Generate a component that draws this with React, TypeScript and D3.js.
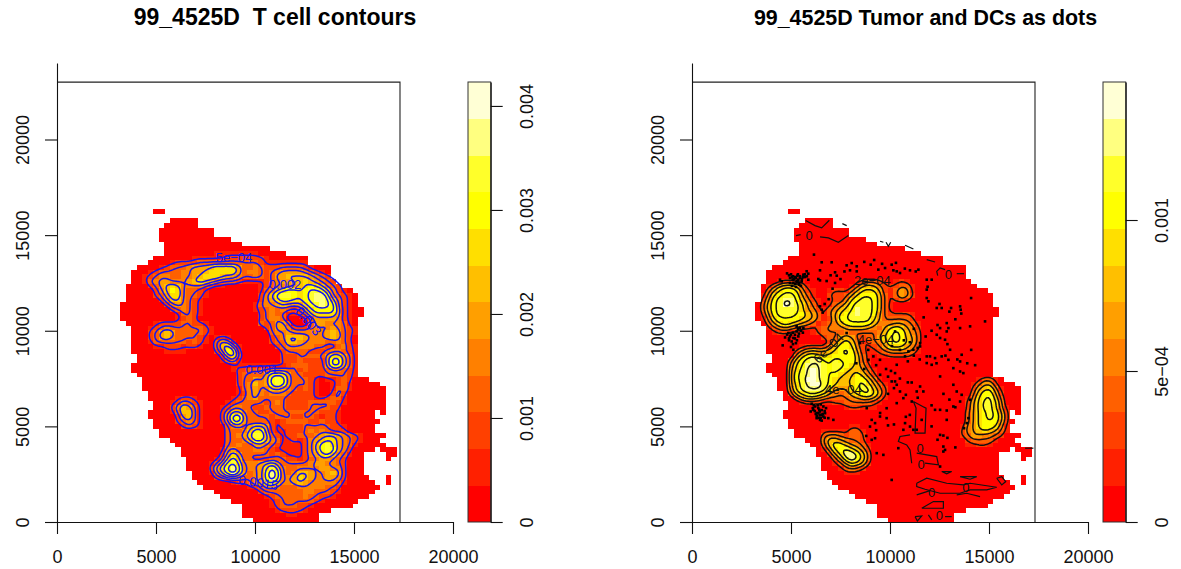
import React, { useEffect, useRef } from 'react';
import * as d3 from 'd3';

const heatColors = ['#FF0000', '#FF2000', '#FF4000', '#FF6000', '#FF8000', '#FF9F00', '#FFBF00', '#FFDF00', '#FFFF00', '#FFFF2A', '#FFFF80', '#FFFFD5'];

const xTicks = [0, 5000, 10000, 15000, 20000];
const yTicks = [0, 5000, 10000, 15000, 20000];
const boxMax = [17323, 23000];
const gridOrigin = [3182, 16366];
const gridStep = [279.4, 244.2];
const gridCols = 52;
const gridRows = 68;

// tissue outline, one list of [firstCol, lastCol] per grid row
const tissueRuns: number[][][] = [
  [[6, 7]], [], [[9, 13]], [[8, 13]], [[7, 16]], [[7, 16]], [[7, 19]], [[8, 21]], [[8, 26]], [[8, 29]],
  [[6, 33]], [[5, 33]], [[3, 37]], [[2, 37]], [[2, 37]], [[2, 38]], [[1, 39]], [[1, 41]], [[1, 42]], [[1, 42]],
  [[0, 42]], [[0, 43]], [[0, 43]], [[0, 42]], [[1, 42]], [[2, 42]], [[2, 42]], [[2, 42]], [[2, 42]], [[2, 42]],
  [[2, 42]], [[3, 42]], [[3, 42]], [[2, 42]], [[2, 42]], [[3, 42]], [[4, 44]], [[4, 46]], [[4, 47]], [[5, 47]],
  [[5, 47]], [[6, 47]], [[6, 47]], [[5, 45], [47, 47]], [[5, 45]], [[6, 46]], [[6, 45]], [[7, 45]], [[7, 47]], [[9, 46]],
  [[10, 47]], [[11, 45], [47, 49]], [[11, 43], [48, 49]], [[12, 43], [48, 48]], [[12, 43]], [[12, 43]], [[13, 43]], [[13, 44], [48, 48]], [[14, 45], [48, 48]], [[15, 46]],
  [[17, 45]], [[18, 44]], [[20, 42]], [[22, 41]], [[22, 37]], [[22, 35]], [[24, 35]],
];

// colour band per cell for the T cell panel: [firstCol, bands] by grid row, everything else is band 0
const tcellBands: [number, string][][] = [
  [], [], [], [], [], [], [], [], [],
  [[17, '11111111']],
  [[13, '11111122222221']],
  [[9, '1222233333333333211111111']],
  [[7, '1233345556777753343222333321']],
  [[5, '12333344556777775344323455554321']],
  [[4, '12344334456777655433432355666654321']],
  [[4, '134554445676543332111123455667654321']],
  [[5, '23567644443211'], [25, '1234455678764321']],
  [[6, '2468743321'], [25, '1346788789986421']],
  [[6, '2357743321'], [25, '2468998789aa84321']],
  [[7, '24664321'], [25, '2457887789aa96421']],
  [[8, '2454321'], [24, '134456555789a98421']],
  [[9, '234321'], [24, '123434323578888521']],
  [[10, '13321'], [25, '23433112367777521']],
  [[10, '1232'], [25, '23443000135555421']],
  [[6, '1222233221'], [25, '32355300035544431']],
  [[5, '123433333321'], [26, '23554222344454321']],
  [[5, '235653333321'], [27, '3445444444565321']],
  [[5, '23564333321'], [17, '121'], [27, '234666544456532']],
  [[5, '13333332321'], [17, '3541'], [27, '233665444433432']],
  [[6, '112221221'], [17, '36741'], [28, '234444433223421']],
  [[8, '1111'], [17, '24872'], [29, '23333222344321']],
  [[18, '2573'], [29, '22233333577531']],
  [[18, '1341'], [29, '22232222588531']],
  [[20, '1111111111'], [30, '2333222588531']],
  [[20, '1223333444'], [30, '3323222344321']],
  [[21, '2333357775332222333321']],
  [[21, '233545898533321011232']],
  [[21, '234645898533321001231']],
  [[21, '134544665432321001331']],
  [[21, '12454344432222100242']],
  [[10, '1221'], [20, '123453333322222112331']],
  [[9, '124321'], [19, '1233333234322223333321']],
  [[9, '246531'], [18, '1244332233332222333322']],
  [[9, '136631'], [18, '2466433223333333332221']],
  [[10, '25631'], [18, '2589533332333223321221']],
  [[10, '23431'], [18, '2488533332123333223221']],
  [[11, '2321'], [19, '3453566521222233333221']],
  [[19, '3334688521122234343222']],
  [[19, '3345799632122333456654321']],
  [[19, '3334688643112124567754321']],
  [[19, '334335543211112468975431']],
  [[18, '145333443211111246898542']],
  [[18, '257533333232111245786431']],
  [[17, '136863322233322123455432']],
  [[16, '1358974445675333334554432']],
  [[16, '2579a84445797433444455442']],
  [[16, '1468a753458a8434665445652']],
  [[17, '2355433458a8445765445542']],
  [[20, '122345786445654444431']],
  [[23, '12355433344444332']],
  [[25, '233333334433321']],
  [[26, '1233333433221']],
  [[27, '1233333321']],
  [[27, '12333221']],
  [[28, '122221']],
  [[30, '11']],
];

// same for the tumour and DC panel
const tumorBands: [number, string][][] = [
  [], [], [], [], [], [], [], [], [], [], [], [], [], [], [],
  [[4, '12211'], [18, '123321'], [25, '121']],
  [[2, '13566531'], [17, '135654222331']],
  [[2, '357887421'], [13, '122'], [16, '1357775213541']],
  [[1, '1478998531'], [13, '2223578886313542']],
  [[1, '2589aa86421'], [13, '122478998631232']],
  [[1, '3689ba97531'], [13, '134689998631']],
  [[1, '368999975421'], [13, '34678a998631']],
  [[1, '258999886531'], [13, '35789a9985322221']],
  [[1, '147888876531'], [13, '2588999975333332']],
  [[2, '3578765431'], [12, '23'], [14, '4688888644455431']],
  [[2, '134543221234'], [14, '4456665435787542']],
  [[3, '12211'], [10, '123333'], [16, '43333346898643']],
  [[12, '233565323357898653']],
  [[13, '24686412346898753']],
  [[8, '1222246887421235777542']],
  [[7, '24565567898521123444431']],
  [[7, '4688777888863101122221']],
  [[6, '3689aa889888631']],
  [[6, '478aaa989987642']],
  [[6, '579aba9898766531']],
  [[6, '589aba9887668642']],
  [[6, '589bba98766788641'], [40, '1331']],
  [[6, '579abb987667897531'], [39, '13552']],
  [[6, '479aaa975557899642'], [39, '256741']],
  [[6, '367898754346789752'], [39, '368852']],
  [[7, '35665433334566531'], [38, '1478963']],
  [[8, '122211223333321'], [38, '2579974']],
  [[16, '122111'], [38, '25799741']],
  [[38, '35789852']],
  [[38, '35789862']],
  [[38, '35788852']],
  [[17, '11'], [37, '145788741']],
  [[12, '11111331'], [37, '245676531']],
  [[12, '34432332'], [37, '23554432']],
  [[12, '46654332'], [38, '233331']],
  [[12, '368865431'], [38, '11221']],
  [[12, '147897642']],
  [[13, '257aa863']],
  [[14, '358a863']],
  [[14, '1357652']],
  [[15, '13432']],
  [[16, '111']],
];

const tcellLevels = [0.0005, 0.001, 0.0015, 0.002, 0.0025, 0.003, 0.0035, 0.004];
const tumorLevels = [0.0002, 0.0004, 0.0006, 0.0008, 0.001, 0.0012, 0.0014];
const tcellMax = 0.00423;
const tumorMax = 0.001457;

const tcellLegendTicks = [0, 0.001, 0.002, 0.003, 0.004];
const tcellLegendLabels = ['0', '0.001', '0.002', '0.003', '0.004'];
const tumorLegendTicks = [0, 0.0005, 0.001];
const tumorLegendLabels = ['0', '5e\u221204', '0.001'];

const tcellLabels: [string, number, number, number][] = [
  ['5e\u221204', 8940, 13858, 0],
  ['0.001', 10340, 7994, 0],
  ['0.002', 11518, 12409, 0],
  ['0.0015', 10170, 2060, 8],
  ['0.003', 12697, 10490, 50],
];
const tumorLabels: [string, number, number, number][] = [
  ['2e\u221204', 9109, 12636, 0],
  ['4e\u221204', 9295, 9530, 0],
  ['6e\u221204', 6887, 9094, -45],
  ['4e\u221204', 7644, 6912, 0],
  ['0', 5910, 14992, 0],
  ['0', 12949, 12933, 0],
  ['0', 11518, 3859, 0],
  ['0', 11568, 2986, 0],
  ['0', 12107, 1538, 0],
  ['0', 13825, 1817, 0],
  ['0', 12494, 369, 0],
];

// the zero level contours on the right panel, they do not follow the colour bands
const zeroContours: number[][][] = [
  [[5741, 15760], [6213, 15498], [6550, 15376], [6937, 15777]],
  [[6466, 14905], [6887, 14852], [7392, 14625], [7897, 14974]],
  [[5253, 14974], [5489, 15027]],
  [[7594, 15603], [7813, 15498]],
  [[9497, 14678], [9665, 14625]],
  [[9800, 14625], [9918, 14416], [10036, 14625]],
  [[10760, 14468], [11181, 14276]],
  [[11854, 13718], [12276, 13596]],
  [[12781, 13194], [12528, 13282], [12360, 13107], [12410, 12880]],
  [[13370, 12985], [13740, 12985]],
  [[11181, 6302], [11652, 6040], [11821, 5953], [11770, 4644], [11265, 4644], [11316, 5953], [11181, 6302]],
  [[11012, 4557], [10507, 4470], [10423, 4208], [10844, 4033], [11012, 3772], [11097, 3074]],
  [[11349, 3597], [12360, 3423], [12444, 2986], [11770, 3074]],
  [[11349, 2026], [11854, 2288], [12865, 2026], [13707, 1939], [14044, 2026], [15391, 1817], [14886, 1678], [14044, 1678], [13538, 1503], [12528, 1503], [11770, 1712], [11349, 1852], [11349, 2026]],
  [[11349, 1416], [12023, 1643]],
  [[13370, 1416], [13875, 1503], [14549, 1329]],
  [[11602, 718], [12191, 1067], [12696, 1067], [12696, 718], [12023, 718], [11602, 718]],
  [[11265, 282], [11602, 317], [11383, 55], [11265, 282]],
  [[11939, 369], [12107, 107]],
  [[12781, 282], [13117, 282]],
  [[13538, 2375], [14380, 2375], [14044, 2236], [13538, 2375]],
  [[15391, 2288], [15643, 2375], [15845, 2114], [15643, 1939], [15391, 2288]],
  [[12612, 2637], [13117, 2637], [12865, 2516], [12612, 2637]],
  [[16822, 3859], [17243, 3859]],
];

const dotsX = [
  4950, 5085, 5200, 5320, 5455, 5625, 5790, 5710, 5120, 5285, 5420, 5250, 5540, 4950, 5875, 5370, 4530, 4445,
  6160, 6550, 7055, 7810, 8065, 8320, 9025, 9750, 10085, 6465, 7225, 7310, 7980, 8320, 9410, 10340, 10505, 11010, 11435, 10170,
  6380, 6465, 5875, 7225, 11855, 12105, 11855, 11855, 11940, 12360, 12610, 13540, 13570, 14095, 13085, 6465, 6550,
  12865, 12950, 12865, 12530, 12360, 12530, 12780, 14045, 13540, 14800, 11520, 11180, 10930, 11520, 10760, 11855, 12020, 12275, 12610, 11855, 12105,
  13620, 13540, 13035, 12950, 10340, 10255, 10255, 10340, 10085, 11095, 11520, 11685, 11350, 12530, 13200, 13540, 13705, 13200, 13370, 13620, 14045,
  4865, 4950, 5120, 5285, 5455, 5200, 5370, 5035, 4580, 5120, 5625, 5285,
  6045, 6215, 6380, 6635, 6770, 5995, 6380, 6550, 6720, 6295, 6465, 6635, 6885, 7140, 6430, 6130,
  9075, 9245, 8990, 9495, 9830, 10760, 11010, 10675, 11350, 11600, 12530, 12695, 12865, 12275, 12530, 12865, 13200, 13540,
  9830, 10340, 10675, 10505, 8825, 9075, 9245, 9330, 9665, 12695, 12780, 12695, 10085, 11180, 10420, 12530,
  7810, 8485, 8910, 9160, 9495, 10255, 13960, 13875, 13740,
  4800, 4900, 5000, 5100, 5150, 5250, 5350, 5450, 5550, 5300, 5200, 5050, 5400, 5500, 5600, 5700, 5800, 5050,
  4800, 4900, 5000, 5100, 5200, 5300, 5400, 5500, 5350, 5600, 4700, 5250, 5100, 5000, 4900,
  6100, 6200, 6300, 6450, 6550, 6300, 6400, 6500, 6600, 6700, 6150, 6350, 6500, 6450, 6250, 6550, 6700,
  8700, 9200, 10300, 9600, 10750, 11300, 7700, 7000, 6800, 7500, 7100, 6900, 6700, 6600, 11900, 12500, 13000, 13600, 13300, 12400, 12100, 11800,
  11400, 11000, 11200, 10900, 11500, 12350, 12800, 13400, 13900, 14300, 10900, 10500, 10200, 9900, 10800, 11100, 11400, 12100, 12700, 13000, 13300,
  9500, 9900, 9300, 8800, 10200, 11000, 10800, 12100, 12400, 12900, 13300, 8300, 8700, 9300, 9800, 9900, 10050, 9500, 8900, 10700, 10500, 10100,
  11200, 11700, 12900, 14100,
];
const dotsY = [
  12760, 12670, 12810, 12880, 12760, 12930, 13110, 12810, 12500, 12530, 12410, 12290, 12585, 12500, 12985, 12670, 12585, 12670,
  13980, 13580, 13580, 13420, 13540, 13370, 13455, 13280, 13455, 13160, 13055, 12880, 13160, 13105, 13195, 13105, 13020, 13160, 13195, 13160,
  12705, 12635, 12670, 12500, 12670, 12670, 12150, 11710, 11540, 11190, 11190, 11275, 11100, 11710, 11190, 11275, 11100,
  10400, 10140, 9965, 10140, 9790, 9620, 9530, 10230, 10140, 10490, 9355, 9005, 8920, 9180, 8660, 8660, 8660, 8570, 8660, 8310, 8220,
  8745, 8395, 9005, 8480, 8220, 7785, 7350, 7175, 7350, 7295, 7085, 6825, 6825, 7610, 8045, 7870, 7785, 7175, 6825, 6650, 6390,
  9880, 9705, 9620, 9965, 10140, 9790, 9705, 9440, 9235, 9005, 10140, 10230,
  6180, 6040, 5955, 6040, 5955, 5780, 5690, 5605, 5690, 5430, 5340, 5515, 5430, 5340, 5865, 5865,
  5340, 5170, 4990, 5515, 5430, 5170, 4990, 4820, 4820, 5340, 4555, 4520, 5340, 5865, 5865, 5830, 6040, 6300,
  5950, 6215, 6475, 6825, 5950, 4295, 4380, 3600, 3510, 3945, 3770, 3685, 2200, 4820, 3860, 2900,
  9880, 9355, 8480, 8660, 8480, 9965, 5430, 5170, 4905,
  13000, 12900, 12950, 12850, 12700, 12750, 12950, 12850, 12700, 12600, 12450, 12350, 12500, 12350, 12800, 12950, 12850, 12800,
  9800, 9600, 9800, 9900, 9600, 9500, 9850, 10000, 10100, 9900, 9650, 9350, 9300, 9150, 9500,
  5950, 5800, 5700, 5780, 5850, 5550, 5450, 5450, 5650, 5800, 6100, 6100, 6150, 5600, 5650, 5300, 5450,
  13600, 13700, 13550, 13500, 13250, 13100, 13100, 12900, 12600, 12700, 12200, 11650, 11400, 10950, 12300, 11400, 11000, 10900, 10600, 10300, 10000, 9700,
  9100, 9400, 8700, 8400, 8500, 8300, 8700, 8500, 8300, 8200, 7300, 7500, 7000, 6700, 6650, 6300, 6500, 6100, 6700, 6400, 6000,
  5700, 5050, 4800, 4500, 5100, 5600, 5500, 5000, 4300, 4400, 3900, 8300, 8000, 8200, 8000, 7600, 7900, 7700, 9000, 9500, 9000, 9200,
  10100, 10700, 9300, 9000,
];

type PanelSpec = {
  title: string;
  titleSize: number;
  titleCenter: number;
  left: number;
  bands: [number, string][][];
  levels: number[];
  maxValue: number;
  legendTicks: number[];
  legendLabels: string[];
  lineColor: string;
  labels: [string, number, number, number][];
  showDots: boolean;
};

const panels: PanelSpec[] = [
  { title: '99_4525D  T cell contours', titleSize: 23, titleCenter: 275, left: 57, bands: tcellBands, levels: tcellLevels, maxValue: tcellMax, legendTicks: tcellLegendTicks, legendLabels: tcellLegendLabels, lineColor: '#1414f0', labels: tcellLabels, showDots: false },
  { title: '99_4525D Tumor and DCs as dots', titleSize: 21.4, titleCenter: 925.5, left: 692, bands: tumorBands, levels: tumorLevels, maxValue: tumorMax, legendTicks: tumorLegendTicks, legendLabels: tumorLegendLabels, lineColor: '#111', labels: tumorLabels, showDots: true },
];

const FONT = '"Liberation Sans", Arial, sans-serif';

function bandMatrix(rows: [number, string][][]) {
  const m: number[][] = d3.range(gridRows).map(() => new Array(gridCols).fill(0));
  rows.forEach((segments, r) => {
    segments.forEach(([start, digits]) => {
      digits.split('').forEach((ch, i) => {
        m[r][start + i] = parseInt(ch, 16);
      });
    });
  });
  return m;
}

function drawPanel(root: d3.Selection<SVGSVGElement, unknown, null, undefined>, p: PanelSpec) {
  const g = root.append('g');
  const x = d3.scaleLinear().domain([0, 20000]).range([p.left, p.left + 396]);
  const y = d3.scaleLinear().domain([0, 24000]).range([522, 63]);
  const matrix = bandMatrix(p.bands);

  // heat map cells
  const cells: { r: number; c: number; v: number }[] = [];
  tissueRuns.forEach((runs, r) => {
    runs.forEach(([a, b]) => {
      d3.range(a, b + 1).forEach((c) => cells.push({ r, c, v: matrix[r][c] }));
    });
  });
  g.append('g')
    .attr('shape-rendering', 'crispEdges')
    .selectAll('rect')
    .data(cells)
    .join('rect')
    .attr('x', (d) => x(gridOrigin[0] + d.c * gridStep[0]))
    .attr('y', (d) => y(gridOrigin[1] - d.r * gridStep[1]))
    .attr('width', x(gridStep[0]) - x(0) + 0.3)
    .attr('height', y(0) - y(gridStep[1]) + 0.3)
    .attr('fill', (d) => heatColors[d.v]);

  // contours come from the band grid, upsampled and blurred so the lines are not blocky
  const k = 3;
  const w = gridCols * k;
  const h = gridRows * k;
  const field = new Float64Array(w * h);
  for (let j = 0; j < h; j++) {
    for (let i = 0; i < w; i++) {
      field[j * w + i] = matrix[Math.floor(j / k)][Math.floor(i / k)];
    }
  }
  d3.blur2({ data: field, width: w, height: h }, 1.2);
  const bandSize = p.maxValue / 12;
  const contourGen = d3.contours().size([w, h]).smooth(true).thresholds(p.levels.map((l) => l / bandSize));
  const toScreen = d3.geoTransform({
    point(px, py) {
      (this as any).stream.point(
        x(gridOrigin[0] + (px / k) * gridStep[0]),
        y(gridOrigin[1] - (py / k) * gridStep[1])
      );
    },
  });
  const path = d3.geoPath(toScreen);
  g.append('g')
    .selectAll('path')
    .data(contourGen(Array.from(field)))
    .join('path')
    .attr('d', (d) => path(d as any))
    .attr('fill', 'none')
    .attr('stroke', p.lineColor)
    .attr('stroke-width', 1.5)
    .attr('stroke-linejoin', 'round');

  if (p.showDots) {
    const line = d3.line<number[]>().x((d) => x(d[0])).y((d) => y(d[1]));
    g.append('g')
      .selectAll('path')
      .data(zeroContours)
      .join('path')
      .attr('d', (d) => line(d))
      .attr('fill', 'none')
      .attr('stroke', p.lineColor)
      .attr('stroke-width', 1.2);
    g.append('g')
      .selectAll('rect')
      .data(dotsX.map((dx, i) => [dx, dotsY[i]]))
      .join('rect')
      .attr('x', (d) => x(d[0]) - 1.3)
      .attr('y', (d) => y(d[1]) - 1.3)
      .attr('width', 2.6)
      .attr('height', 2.6)
      .attr('fill', '#000');
  }

  // contour labels
  g.append('g')
    .selectAll('text')
    .data(p.labels)
    .join('text')
    .attr('transform', (d) => `translate(${x(d[1])},${y(d[2])}) rotate(${d[3]})`)
    .attr('text-anchor', 'middle')
    .attr('dy', '0.35em')
    .attr('font-family', FONT)
    .attr('font-size', 13)
    .attr('fill', p.lineColor)
    .text((d) => d[0]);

  // plot box
  g.append('path')
    .attr('d', `M${x(0)},${y(boxMax[1])}H${x(boxMax[0])}V${y(0)}`)
    .attr('fill', 'none')
    .attr('stroke', '#222')
    .attr('stroke-width', 1.1);

  // axes
  const xAxis = g
    .append('g')
    .attr('transform', `translate(0,${y(0)})`)
    .call(d3.axisBottom(x).tickValues(xTicks).tickFormat(d3.format('d') as any).tickSize(12).tickSizeOuter(0));
  xAxis.selectAll('text').attr('y', 35).attr('dy', '0.35em');

  const yAxis = g
    .append('g')
    .attr('transform', `translate(${x(0)},0)`)
    .call(d3.axisLeft(y).tickValues(yTicks).tickFormat(d3.format('d') as any).tickSize(12).tickSizeOuter(0));
  yAxis
    .selectAll('text')
    .attr('x', 0)
    .attr('y', 0)
    .attr('dy', '0.35em')
    .attr('text-anchor', 'middle')
    .attr('transform', 'translate(-34,0) rotate(-90)');

  // colour legend
  const lx = p.left + 411;
  const lw = 22.7;
  const ly = d3.scaleLinear().domain([0, p.maxValue]).range([522, 82]);
  g.append('g')
    .attr('shape-rendering', 'crispEdges')
    .selectAll('rect')
    .data(heatColors)
    .join('rect')
    .attr('x', lx)
    .attr('y', (_, i) => ly(((i + 1) * p.maxValue) / 12))
    .attr('width', lw)
    .attr('height', ly(0) - ly(p.maxValue / 12) + 0.3)
    .attr('fill', (d) => d);
  g.append('rect')
    .attr('x', lx)
    .attr('y', 82)
    .attr('width', lw)
    .attr('height', 440)
    .attr('fill', 'none')
    .attr('stroke', '#333')
    .attr('stroke-width', 1);

  const lAxis = g
    .append('g')
    .attr('transform', `translate(${lx + lw},0)`)
    .call(
      d3.axisRight(ly)
        .tickValues(p.legendTicks)
        .tickFormat((_, i) => p.legendLabels[i])
        .tickSize(12)
        .tickSizeOuter(0)
    );
  lAxis
    .selectAll('text')
    .attr('x', 0)
    .attr('y', 0)
    .attr('dy', '0.35em')
    .attr('text-anchor', 'middle')
    .attr('transform', 'translate(36,0) rotate(-90)');

  root.selectAll('.tick line, .domain').attr('stroke', '#111').attr('stroke-width', 1.1);
  g.selectAll('.tick text').attr('font-family', FONT).attr('font-size', 18).attr('fill', '#111');

  g.append('text')
    .attr('x', p.titleCenter)
    .attr('y', 25)
    .attr('text-anchor', 'middle')
    .attr('font-family', FONT)
    .attr('font-size', p.titleSize)
    .attr('font-weight', 'bold')
    .attr('fill', '#000')
    .style('white-space', 'pre')
    .text(p.title);
}

export default function App() {
  const ref = useRef<SVGSVGElement>(null);

  useEffect(() => {
    const root = d3.select(ref.current as SVGSVGElement);
    root.selectAll('*').remove();
    root.append('rect').attr('width', 1181).attr('height', 569).attr('fill', '#fff');
    panels.forEach((p) => drawPanel(root, p));
  }, []);

  return (
    <svg
      ref={ref}
      width={1181}
      height={569}
      style={{ position: 'absolute', left: 0, top: 0, display: 'block' }}
    />
  );
}
